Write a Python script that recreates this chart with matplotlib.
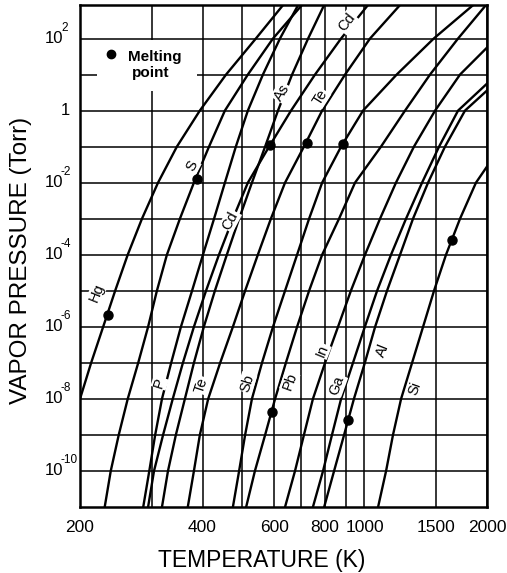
import matplotlib
matplotlib.use("Agg")
import matplotlib.pyplot as plt
from matplotlib.patches import Rectangle
from matplotlib.transforms import offset_copy

plt.rcParams['font.family'] = ['Liberation Sans', 'DejaVu Sans']

# vapor pressure curves: temperature (K) at each pressure (Torr)
hg_P = [1e-8, 1e-7, 1e-6, 1e-5, 1e-4, 1e-3, 1e-2, 1e-1, 1, 10, 1e2, 850]
hg_T = [200, 213, 228, 244, 262, 284, 311, 346, 394, 457, 541, 631]

dec_P = [1e-11, 1e-10, 1e-9, 1e-8, 1e-7, 1e-6, 1e-5, 1e-4, 1e-3, 1e-2, 1e-1, 1, 10, 1e2, 850]
s_T = [230, 238, 249, 262, 278, 294, 309, 327, 352, 381, 415, 454, 517, 596, 702]
p_T = [286, 296, 306, 318, 335, 354, 377, 401, 427, 454, 483, 517, 563, 620, 687]
cd_T = [294, 304, 320, 338, 358, 381, 408, 439, 475, 517, 583, 660, 756, 876, 1020]
as_T = [318, 329, 344, 362, 381, 403, 429, 459, 492, 529, 570, 613, 664, 727, 796]
te_T = [368, 381, 394, 413, 442, 475, 509, 547, 589, 638, 710, 787, 896, 1032, 1223]
sb_T = [475, 492, 509, 529, 560, 596, 638, 683, 731, 787, 876, 992, 1200, 1480, 1850]
pb_T = [512, 538, 570, 603, 641, 683, 731, 787, 866, 948, 1098, 1258, 1449, 1698, 1989]

in_P = [1e-11, 1e-10, 1e-9, 1e-8, 1e-7, 1e-6, 1e-5, 1e-4, 1e-3, 1e-2, 1e-1, 1, 10, 56]
in_T = [638, 675, 710, 747, 800, 861, 926, 1003, 1092, 1195, 1323, 1491, 1717, 2000]
ga_P = [1e-11, 1e-10, 1e-9, 1e-8, 1e-7, 1e-6, 1e-5, 1e-4, 1e-3, 1e-2, 1e-1, 1, 5.6]
ga_T = [747, 791, 832, 876, 937, 1002, 1074, 1162, 1265, 1385, 1525, 1698, 2000]
al_P = [1e-11, 1e-10, 1e-9, 1e-8, 1e-7, 1e-6, 1e-5, 1e-4, 1e-3, 1e-2, 1e-1, 1, 3.6]
al_T = [796, 842, 891, 942, 1002, 1062, 1136, 1223, 1316, 1433, 1577, 1766, 2000]
si_P = [1e-11, 1e-10, 1e-9, 1e-8, 1e-7, 1e-6, 1e-5, 1e-4, 1e-3, 1e-2, 0.028]
si_T = [1080, 1130, 1175, 1230, 1309, 1393, 1482, 1586, 1717, 1879, 2000]

# melting points
mp_T = [234, 388, 586, 722, 886, 592, 911, 1641]
mp_P = [2.1e-6, 1.3e-2, 0.108, 0.13, 0.12, 4.3e-9, 2.6e-9, 2.5e-4]

# curve labels
lab_txt = ['Hg', 'S', 'Cd', 'As', 'Te', 'Cd', 'P', 'Te', 'Sb', 'Pb', 'In', 'Ga', 'Al', 'Si']
lab_T = [220, 377, 468, 626, 778, 904, 314, 398, 514, 655, 786, 857, 1109, 1331]
lab_P = [9e-6, 3e-2, 9e-4, 3.2, 2.3, 2.8e2, 2.8e-8, 2.4e-8, 2.8e-8, 3e-8, 2.2e-7, 2.4e-8, 2.2e-7, 2e-8]
lab_rot = [68, 62, 62, 58, 58, 52, 72, 72, 72, 70, 68, 70, 68, 70]

xt = [200, 400, 600, 800, 1000, 1500, 2000]
xt_lab = ['200', '400', '600', '800', '1000', '1500', '2000']
yt = [1e-10, 1e-8, 1e-6, 1e-4, 1e-2, 1e2]
yt_exp = ['-10', '-8', '-6', '-4', '-2', '2']

fig = plt.figure(figsize=(5.07, 5.73), dpi=100)
ax = fig.add_axes([80 / 507, 1 - 507 / 573, 407 / 507, 502 / 573])
ax.set_xscale('log')
ax.set_yscale('log')
ax.set_xlim(200, 2000)
ax.set_ylim(1e-11, 10 ** 2.93)

ax.set_xticks(xt)
ax.set_xticklabels(xt_lab)
ax.set_xticks([300, 500, 700, 900], minor=True)
ax.set_xticklabels([], minor=True)
ax.set_yticks(yt + [1])
ax.set_yticklabels([])
ax.set_yticks([1e-9, 1e-7, 1e-5, 1e-3, 1e-1, 10], minor=True)
ax.set_yticklabels([], minor=True)
ax.tick_params(which='both', length=0)
ax.tick_params(axis='x', labelsize=12.5, pad=9)
ax.grid(True, which='both', color='black', lw=1.1)
ax.set_axisbelow(True)
for sp in ax.spines.values():
    sp.set_linewidth(1.8)

# y tick labels drawn as "10" plus a small raised exponent
ytr = ax.get_yaxis_transform()
yfam = ['Liberation Sans Narrow', 'Liberation Sans']
exp_tr = offset_copy(ytr, fig=fig, x=11.5, y=3.5, units='points')
for v, e in zip(yt, yt_exp):
    ax.text(-0.086, v, '10', transform=ytr, ha='left', va='center', fontsize=12,
            family=yfam, clip_on=False)
    ax.text(-0.086, v, e, transform=exp_tr, ha='left', va='bottom', fontsize=8.5,
            family=yfam, clip_on=False)
ax.text(-0.024, 1, '1', transform=ytr, ha='right', va='center', fontsize=12,
        family=yfam, clip_on=False)

kw = dict(color='black', lw=1.7, zorder=3)
ax.plot(hg_T, hg_P, **kw)
for t in [s_T, p_T, cd_T, as_T, te_T, sb_T, pb_T]:
    ax.plot(t, dec_P, **kw)
ax.plot(in_T, in_P, **kw)
ax.plot(ga_T, ga_P, **kw)
ax.plot(al_T, al_P, **kw)
ax.plot(si_T, si_P, **kw)

ax.plot(mp_T, mp_P, 'o', color='black', ms=6.5, zorder=5)

for t, x, y, r in zip(lab_txt, lab_T, lab_P, lab_rot):
    ax.text(x, y, t, rotation=r, ha='center', va='center', fontsize=10.5, zorder=4,
            bbox=dict(facecolor='white', edgecolor='none', pad=0.6))

# melting point key
ax.add_patch(Rectangle((220, 3.6), 168, 90, facecolor='white', edgecolor='none', zorder=2))
ax.plot([239], [38], 'o', color='black', ms=6, zorder=5)
ax.text(263, 31, 'Melting', fontsize=11, fontweight='bold', va='center', ha='left', zorder=5)
ax.text(269, 11, 'point', fontsize=11, fontweight='bold', va='center', ha='left', zorder=5)

fig.text(262 / 507, 1 - 560 / 573, 'TEMPERATURE (K)', ha='center', va='center', fontsize=16.5)
fig.text(21 / 507, 1 - 260 / 573, 'VAPOR PRESSURE (Torr)', ha='center', va='center',
         rotation=90, fontsize=17.5)

fig.savefig('out.png', dpi=100)
